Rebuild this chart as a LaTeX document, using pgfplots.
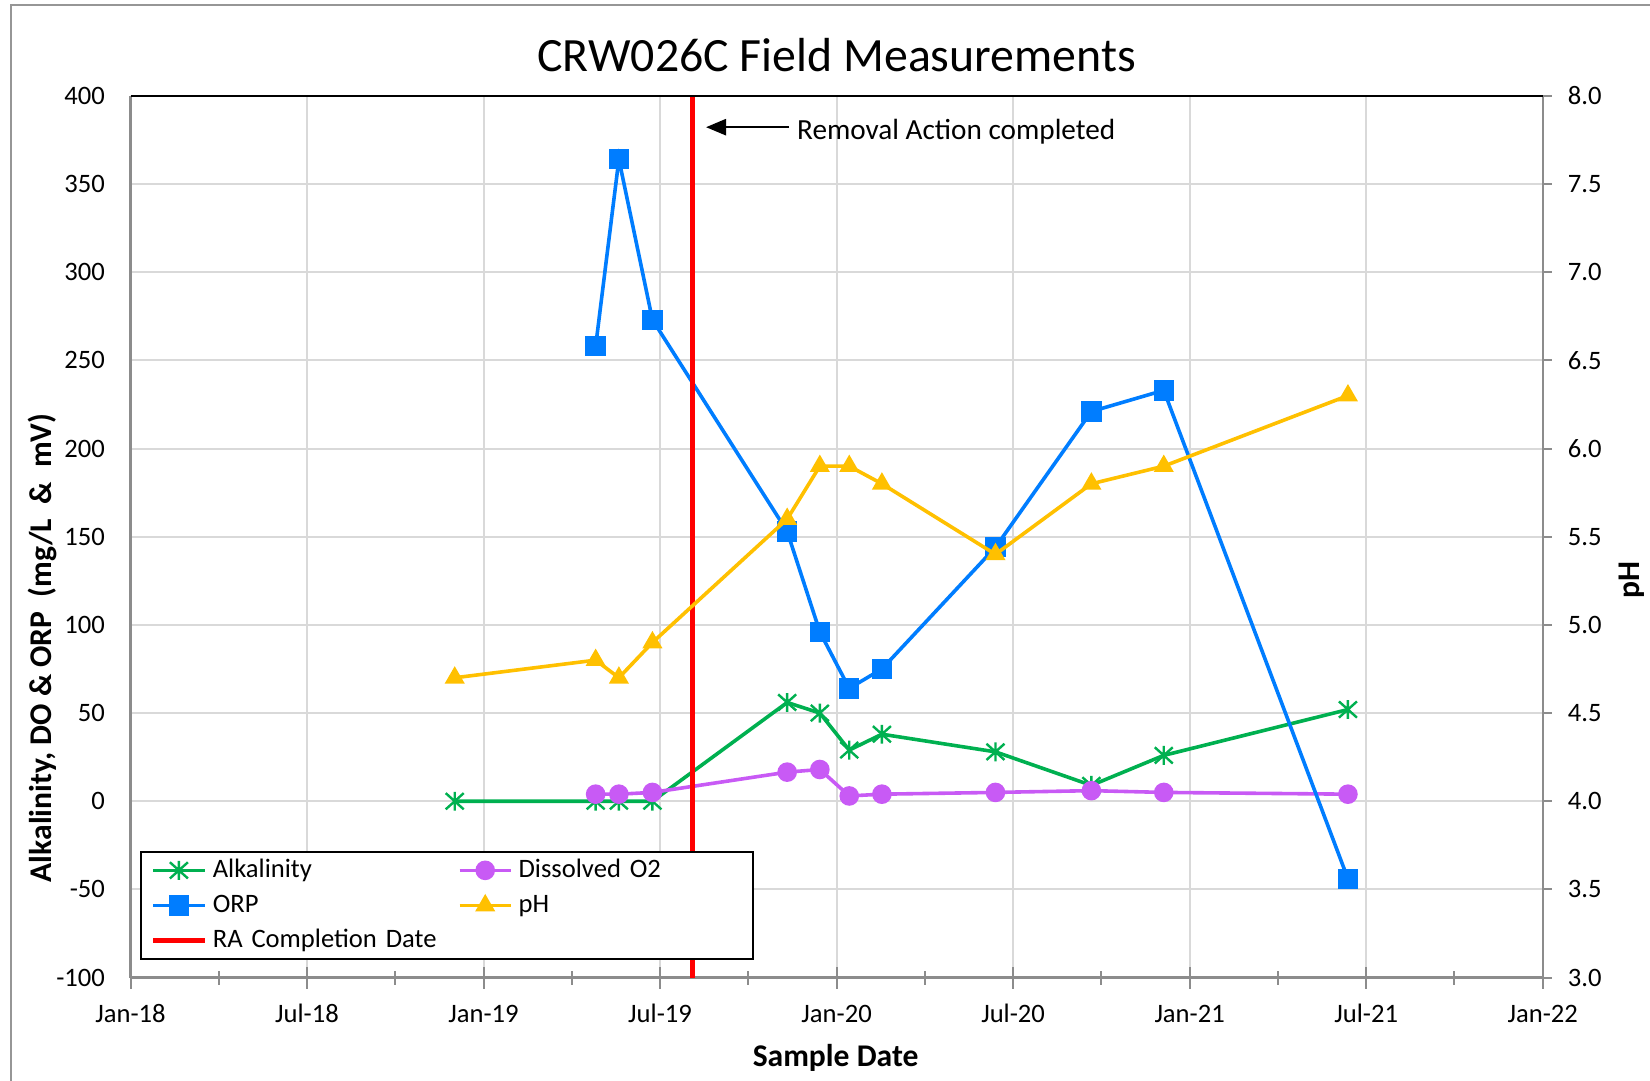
\documentclass[border=0pt]{standalone}
\usepackage{pgfplots}
\pgfplotsset{compat=1.18}
\usepackage{fontspec}
\setmainfont{Carlito}
\usetikzlibrary{arrows.meta}

\definecolor{alkgreen}{RGB}{0,176,80}
\definecolor{dopurple}{RGB}{200,90,245}
\definecolor{orpblue}{RGB}{0,125,255}
\definecolor{phyellow}{RGB}{255,192,0}
\definecolor{gridgray}{RGB}{217,217,217}
\definecolor{axisgray}{RGB}{140,140,140}
\definecolor{framegray}{RGB}{150,150,150}

\pgfdeclareplotmark{xlstar}{%
 \pgfpathmoveto{\pgfqpoint{0pt}{1.05\pgfplotmarksize}}%
 \pgfpathlineto{\pgfqpoint{0pt}{-1.05\pgfplotmarksize}}%
 \pgfpathmoveto{\pgfqpoint{-\pgfplotmarksize}{0.9\pgfplotmarksize}}%
 \pgfpathlineto{\pgfqpoint{\pgfplotmarksize}{-0.9\pgfplotmarksize}}%
 \pgfpathmoveto{\pgfqpoint{-\pgfplotmarksize}{-0.9\pgfplotmarksize}}%
 \pgfpathlineto{\pgfqpoint{\pgfplotmarksize}{0.9\pgfplotmarksize}}%
 \pgfusepathqstroke}

\newcommand{\tickfont}{\fontsize{13.3}{16}\selectfont}

\begin{document}
\begin{tikzpicture}
\useasboundingbox (0,0) rectangle (825pt,540.5pt);
\draw[framegray, line width=1pt] (5.5pt,0) -- (5.5pt,537.9pt) -- (825pt,537.9pt);

\begin{axis}[
  at={(65.25pt,51.7pt)}, anchor=south west,
  scale only axis, width=706.1pt, height=440.9pt,
  xmin=0, xmax=48, ymin=-100, ymax=400,
  axis x line*=bottom, axis y line*=left,
  axis line style={draw=axisgray, line width=1.2pt, -},
  xtick={0,6,...,48},
  xticklabels={Jan-18,Jul-18,Jan-19,Jul-19,Jan-20,Jul-20,Jan-21,Jul-21,Jan-22},
  minor xtick={3,9,...,45},
  ytick={-100,-50,...,400},
  xmajorgrids, ymajorgrids,
  grid style={draw=gridgray, line width=1pt},
  xtick align=center,
  major tick length=11pt, minor tick length=7pt,
  x tick style={draw=axisgray, line width=1pt},
  y tick style={draw=none},
  tick label style={font=\tickfont},
  /pgf/number format/assume math mode=true,
  yticklabel style={anchor=east, inner sep=0pt, xshift=-12.6pt},
  xticklabel style={anchor=base, yshift=-16.8pt},
  legend columns=2,
  legend image code/.code={\draw[mark repeat=2,mark phase=2] plot coordinates {(0cm,0cm) (0.45cm,0cm) (0.9cm,0cm)};},
  legend style={at={(0.00673,0.0199)}, anchor=south west,
    draw=black, line width=1pt, fill=white,
    font=\tickfont, inner xsep=5pt, inner ysep=1pt,
    row sep=1.3pt,
    /tikz/every even column/.append style={column sep=10.5pt},
    nodes={inner xsep=3pt, inner ysep=1.5pt, text height=10pt, text depth=3.3pt, text width=109pt, align=left}},
  legend cell align=left,
]
\addplot[alkgreen, line width=1.8pt, mark=xlstar, mark size=4.5pt, mark options={line width=1.2pt}] coordinates {
(11.02,0) (15.81,0) (16.60,0) (17.74,0) (22.32,56) (23.43,50) (24.43,29) (25.54,38) (29.40,28) (32.66,9) (35.12,26) (41.38,52)};
\addlegendentry{Alkalinity}
\addplot[dopurple, line width=1.8pt, mark=*, mark size=4.4pt, mark options={fill=dopurple, draw=dopurple, line width=1pt}] coordinates {
(15.81,4) (16.60,4) (17.74,5) (22.32,16.5) (23.43,18) (24.43,3) (25.54,4) (29.40,5) (32.66,6) (35.12,5) (41.38,4)};
\addlegendentry{Dissolved O2}
\addplot[orpblue, line width=1.8pt, mark=square*, mark size=4.6pt, mark options={fill=orpblue, draw=orpblue, line width=1pt}] coordinates {
(15.81,258) (16.60,364) (17.74,273) (22.32,153) (23.43,96) (24.43,64) (25.54,75) (29.40,144) (32.66,221) (35.12,233) (41.38,-44)};
\addlegendentry{ORP}
\addlegendimage{phyellow, line width=1.8pt, mark=triangle*, mark size=4.8pt, mark options={fill=phyellow, draw=phyellow, line width=1pt}}
\addlegendentry{pH}
\addplot[red, line width=2.3pt] coordinates {(19.1,-100) (19.1,400)};
\addlegendentry{\mbox{RA Completion Date}}
\end{axis}

\begin{axis}[
  at={(65.25pt,51.7pt)}, anchor=south west,
  scale only axis, width=706.1pt, height=440.9pt,
  xmin=0, xmax=48, ymin=3, ymax=8,
  axis x line=none, axis y line*=right,
  axis line style={draw=axisgray, line width=1.2pt, -},
  ytick={3,3.5,...,8},
  y tick style={draw=axisgray, line width=1pt},
  tick align=outside, major tick length=4.5pt,
  tick label style={font=\tickfont},
  /pgf/number format/assume math mode=true,
  /pgf/number format/.cd, fixed, fixed zerofill, precision=1,
  /pgfplots/.cd,
  yticklabel style={anchor=west, inner sep=0pt, xshift=7.9pt},
]
\addplot[phyellow, line width=1.8pt, mark=triangle*, mark size=4.8pt, mark options={fill=phyellow, draw=phyellow, line width=1pt}] coordinates {
(11.02,4.7) (15.81,4.8) (16.60,4.7) (17.74,4.9) (22.32,5.6) (23.43,5.9) (24.43,5.9) (25.54,5.8) (29.40,5.4) (32.66,5.8) (35.12,5.9) (41.38,6.3)};
\end{axis}

\draw[black, line width=1pt] (65.25pt,492.6pt) -- (771.35pt,492.6pt);

\node[font=\fontsize{15.8}{19}\selectfont\bfseries, rotate=90] at (21pt,216.5pt) {Alkalinity, DO \& ORP\ \ (mg/L\ \ \&\ \ mV)};
\node[font=\fontsize{15.8}{19}\selectfont\bfseries, rotate=90] at (816pt,250.5pt) {pH};
\node[font=\fontsize{15.8}{19}\selectfont\bfseries, anchor=base] at (417.8pt,7pt) {Sample Date};
\node[font=\fontsize{23.9}{28}\selectfont, anchor=base] at (418.3pt,504.5pt) {CRW026C Field Measurements};
\node[font=\fontsize{14.6}{17}\selectfont, anchor=base west, inner sep=0pt] at (398.4pt,470.5pt) {Removal Action completed};
\draw[-{Triangle[length=10pt,width=8pt]}, line width=1.3pt] (394.5pt,476.9pt) -- (353pt,476.9pt);
\end{tikzpicture}
\end{document}
